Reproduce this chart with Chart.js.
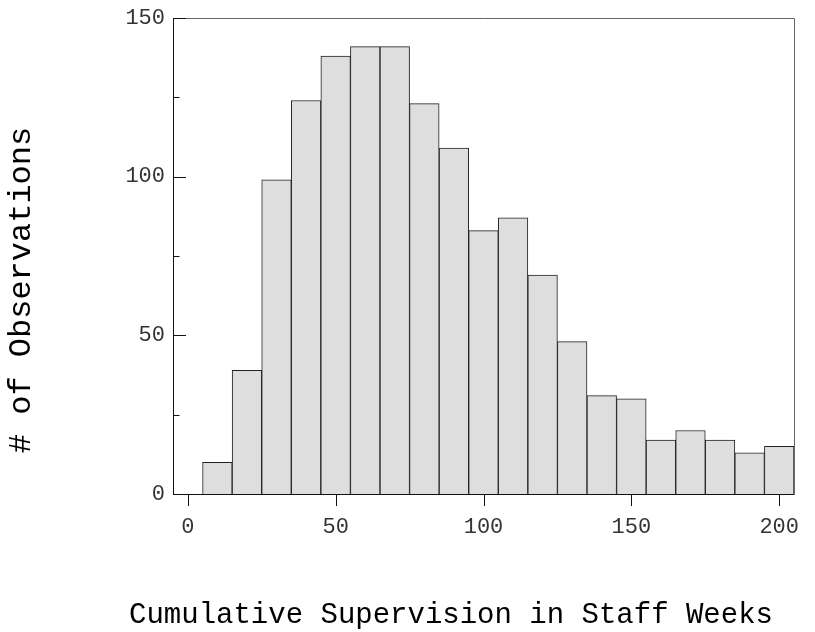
<!DOCTYPE html>
<html>
<head>
<meta charset="utf-8">
<title>Cumulative Supervision</title>
<script src="https://cdn.jsdelivr.net/npm/chart.js@4.4.0/dist/chart.umd.min.js"></script>
<style>
  html, body { margin: 0; padding: 0; background: #fff; }
  #wrap { width: 815px; height: 632px; position: relative; }
</style>
</head>
<body>
<div id="wrap"><canvas id="histChart"></canvas></div>
<script>
// bin centres (staff weeks), each bin is 10 weeks wide
const binCenters = [10, 20, 30, 40, 50, 60, 70, 80, 90, 100,
                    110, 120, 130, 140, 150, 160, 170, 180, 190, 200];
// number of observations per bin
const counts = [10, 39, 99, 124, 138, 141, 141, 123, 109, 83,
                87, 69, 48, 31, 30, 17, 20, 17, 13, 15];
const xTicks = [0, 50, 100, 150, 200];
const yTicks = [0, 50, 100, 150];
const yMinorTicks = [25, 75, 125];

const xTitle = "Cumulative Supervision in Staff Weeks";
const yTitle = "# of Observations";

const MONO = "'Liberation Mono', 'Courier New', monospace";

// tick marks + frame + axis titles, drawn by hand
const axesDecor = {
  id: "axesDecor",
  afterDraw(chart) {
    const { ctx, chartArea: a, scales: { x, y } } = chart;
    ctx.save();

    // thin grey frame on top/right
    ctx.strokeStyle = "#666";
    ctx.lineWidth = 1;
    ctx.beginPath();
    ctx.moveTo(a.left, a.top + 0.5);
    ctx.lineTo(a.right + 0.5, a.top + 0.5);
    ctx.lineTo(a.right + 0.5, a.bottom);
    ctx.stroke();

    // left + bottom axis lines
    ctx.strokeStyle = "#111";
    ctx.beginPath();
    ctx.moveTo(a.left + 0.5, a.top);
    ctx.lineTo(a.left + 0.5, a.bottom + 0.5);
    ctx.lineTo(a.right + 0.5, a.bottom + 0.5);
    ctx.stroke();

    // y ticks point inward
    ctx.beginPath();
    yTicks.forEach(v => {
      const py = Math.round(y.getPixelForValue(v)) + 0.5;
      ctx.moveTo(a.left, py);
      ctx.lineTo(a.left + 13, py);
    });
    yMinorTicks.forEach(v => {
      const py = Math.round(y.getPixelForValue(v)) + 0.5;
      ctx.moveTo(a.left, py);
      ctx.lineTo(a.left + 6.5, py);
    });
    // x ticks hang below the axis
    xTicks.forEach(v => {
      const px = Math.round(x.getPixelForValue(v)) + 0.5;
      ctx.moveTo(px, a.bottom);
      ctx.lineTo(px, a.bottom + 12);
    });
    ctx.stroke();

    // axis titles
    ctx.fillStyle = "#000";
    ctx.textAlign = "center";
    ctx.textBaseline = "alphabetic";
    ctx.font = "29px " + MONO;
    ctx.fillText(xTitle, 451, 623);

    ctx.translate(22, 290);
    ctx.rotate(-Math.PI / 2);
    ctx.textBaseline = "middle";
    ctx.font = "32px " + MONO;
    ctx.fillText(yTitle, 0, 0);

    ctx.restore();
  }
};

window.addEventListener("DOMContentLoaded", () => {
  const ctx = document.getElementById("histChart").getContext("2d");

  new Chart(ctx, {
    type: "bar",
    data: {
      datasets: [{
        data: binCenters.map((c, i) => ({ x: c, y: counts[i] })),
        backgroundColor: "#dedede",
        borderColor: "#222",
        borderWidth: 1,
        barPercentage: 1,
        categoryPercentage: 1
      }]
    },
    plugins: [axesDecor],
    options: {
      responsive: true,
      maintainAspectRatio: false,
      animation: false,
      layout: { padding: { top: 18, right: 21, left: 0, bottom: 0 } },
      plugins: {
        legend: { display: false },
        tooltip: { enabled: false }
      },
      scales: {
        x: {
          type: "linear",
          offset: false,
          min: -5,
          max: 205,
          border: { display: false },
          grid: { display: false, drawTicks: false, offset: false },
          afterBuildTicks: s => { s.ticks = xTicks.map(v => ({ value: v })); },
          afterFit: s => {
            s.height = 138;
            s.paddingLeft = 0;
            s.paddingRight = 0;
          },
          ticks: {
            padding: 20,
            maxRotation: 0,
            color: "#333",
            font: { family: MONO, size: 22 }
          }
        },
        y: {
          min: 0,
          max: 150,
          border: { display: false },
          grid: { display: false, drawTicks: false },
          afterBuildTicks: s => { s.ticks = yTicks.map(v => ({ value: v })); },
          afterFit: s => {
            s.width = 173;
            s.paddingTop = 0;
            s.paddingBottom = 0;
          },
          ticks: {
            padding: 8,
            color: "#333",
            font: { family: MONO, size: 22 }
          }
        }
      }
    }
  });
});
</script>
</body>
</html>
